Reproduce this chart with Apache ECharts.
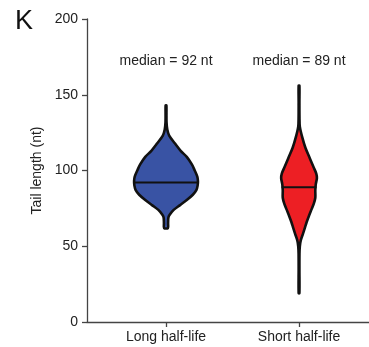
<!DOCTYPE html>
<html><head><meta charset="utf-8">
<script src="https://cdn.jsdelivr.net/npm/echarts@6/dist/echarts.min.js"></script>
<style>html,body{margin:0;padding:0;background:#fff}#c{width:369px;height:347px}</style>
</head><body><div id="c"></div>
<script>
// ---- data ----
const categories = ['Long half-life', 'Short half-life'];
const medians = [92, 89];
const yTicks = [0, 50, 100, 150, 200];
const panelLetter = 'K';
const yAxisName = 'Tail length (nt)';
// violin outlines: tail length (nt) and relative density
const longTail    = [143, 138, 132, 127, 123, 118, 113, 109, 104, 100, 96, 93, 90, 87, 84, 80.5, 77, 74, 71, 69, 65, 62];
const longDensity = [0.012, 0.014, 0.016, 0.04, 0.10, 0.275, 0.46, 0.65, 0.81, 0.90, 0.98, 1.0, 0.99, 0.95, 0.84, 0.65, 0.43, 0.24, 0.12, 0.075, 0.065, 0.06];
const shortTail    = [156, 145, 135, 129, 122, 115, 108, 102, 98, 95, 91, 87, 82, 78, 74, 70, 66, 62, 58, 54, 50, 45, 35, 19];
const shortDensity = [0.012, 0.012, 0.014, 0.025, 0.10, 0.20, 0.34, 0.46, 0.54, 0.56, 0.525, 0.51, 0.51, 0.46, 0.385, 0.31, 0.24, 0.18, 0.12, 0.056, 0.025, 0.014, 0.012, 0.012];

// ---- styling ----
const FONT = '"Liberation Sans", Arial, Helvetica, sans-serif';
const fills = ['#3953a4', '#ed1f24'];
const widthScale = 0.24;    // x-axis units at density 1
const labelValue = 172;     // y value where median text sits

const tails = [longTail, shortTail];
const dens = [longDensity, shortDensity];

function densAt(t, d, v) {
  for (let k = 0; k < t.length - 1; k++) {
    const a = t[k], b = t[k + 1];
    if ((v <= a && v >= b)) {
      const f = (a - v) / (a - b);
      return d[k] + f * (d[k + 1] - d[k]);
    }
  }
  return 0;
}

function renderItem(params, api) {
  const i = params.dataIndex;
  const t = tails[i], d = dens[i];
  const cx = api.value(0);
  const unit = api.size([1, 0])[0];
  const half = x => x * widthScale * unit;
  const left = [], right = [];
  for (let k = 0; k < t.length; k++) {
    const p = api.coord([cx, t[k]]);
    left.push([p[0] - half(d[k]), p[1]]);
    right.unshift([p[0] + half(d[k]), p[1]]);
  }
  const m = api.value(1);
  const pm = api.coord([cx, m]);
  const hw = half(densAt(t, d, m)) + 1;
  const lp = api.coord([cx, labelValue]);
  return {
    type: 'group',
    children: [
      { type: 'polygon', shape: { points: left.concat(right), smooth: 0.3 },
        style: { fill: fills[i], stroke: '#111', lineWidth: 2.6, lineJoin: 'round' } },
      { type: 'line', shape: { x1: pm[0] - hw, y1: pm[1], x2: pm[0] + hw, y2: pm[1] },
        style: { stroke: '#111', lineWidth: 2 } },
      { type: 'text', x: lp[0], y: lp[1],
        style: { text: 'median = ' + m + ' nt', align: 'center', verticalAlign: 'middle',
                 fontSize: 14, fill: '#222', fontFamily: FONT } }
    ]
  };
}

const chart = echarts.init(document.getElementById('c'), null, { renderer: 'canvas' });
chart.setOption({
  animation: false,
  backgroundColor: '#fff',
  grid: { left: 87, right: 0, top: 19, bottom: 25, containLabel: false },
  graphic: [{ type: 'text', left: 15, top: 8,
              style: { text: panelLetter, fontSize: 27, fill: '#111', fontFamily: FONT } }],
  xAxis: {
    type: 'value', min: 0.406, max: 2.526,
    splitLine: { show: false },
    axisLine: { show: true, lineStyle: { color: '#444', width: 1.3 } },
    axisTick: { show: true, customValues: [1, 2], length: 5, lineStyle: { color: '#444', width: 1.3 } },
    axisLabel: { customValues: [1, 2], formatter: v => categories[Math.round(v) - 1] || '',
                 fontSize: 14, color: '#222', fontFamily: FONT, margin: 8 }
  },
  yAxis: {
    type: 'value', min: yTicks[0], max: yTicks[yTicks.length - 1], interval: 50,
    name: yAxisName, nameLocation: 'middle', nameGap: 35,
    nameTextStyle: { fontSize: 14, color: '#222', fontFamily: FONT },
    splitLine: { show: false },
    axisLine: { show: true, lineStyle: { color: '#444', width: 1.3 } },
    axisTick: { show: true, length: 5, lineStyle: { color: '#444', width: 1.3 } },
    axisLabel: { fontSize: 14, color: '#222', fontFamily: FONT, margin: 9 }
  },
  series: [{
    type: 'custom',
    renderItem: renderItem,
    data: medians.map((m, i) => [i + 1, m]),
    clip: false
  }]
});
</script></body></html>
